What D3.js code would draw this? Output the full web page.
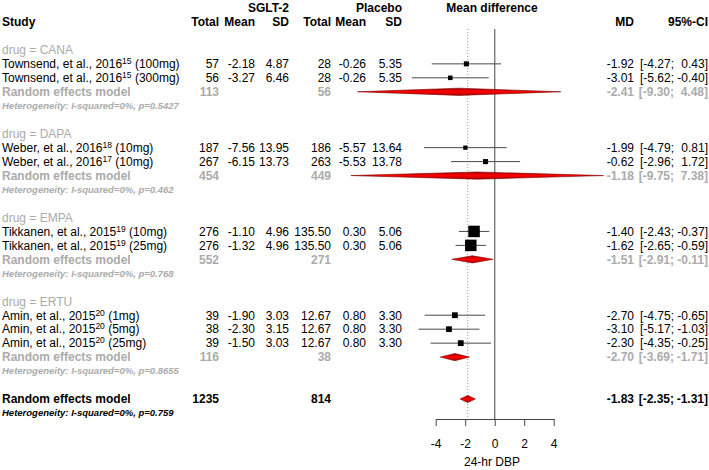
<!DOCTYPE html>
<html><head><meta charset="utf-8">
<script src="https://cdn.jsdelivr.net/npm/d3@7"></script>
<style>
body{margin:0;background:#fff}
svg{display:block}
text{font-family:"Liberation Sans",Arial,Helvetica,sans-serif}
</style>
</head><body>
<svg id="chart" width="709" height="470"></svg>
<script>
// ---------------- data ----------------
const groups = ["CANA", "DAPA", "EMPA", "ERTU"];
const studyAuthor = ["Townsend, et al., 2016", "Townsend, et al., 2016", "Weber, et al., 2016", "Weber, et al., 2016",
  "Tikkanen, et al., 2015", "Tikkanen, et al., 2015", "Amin, et al., 2015", "Amin, et al., 2015", "Amin, et al., 2015"];
const studyRef = ["15", "15", "18", "17", "19", "19", "20", "20", "20"];
const studyDose = ["(100mg)", "(300mg)", "(10mg)", "(10mg)", "(10mg)", "(25mg)", "(1mg)", "(5mg)", "(25mg)"];
const studyGroup = ["CANA", "CANA", "DAPA", "DAPA", "EMPA", "EMPA", "ERTU", "ERTU", "ERTU"];
const sgltTotal = [57, 56, 187, 267, 276, 276, 39, 38, 39];
const sgltMean = [-2.18, -3.27, -7.56, -6.15, -1.10, -1.32, -1.90, -2.30, -1.50];
const sgltSD = [4.87, 6.46, 13.95, 13.73, 4.96, 4.96, 3.03, 3.15, 3.03];
const placeboTotal = [28, 28, 186, 263, 135.50, 135.50, 12.67, 12.67, 12.67];
const placeboMean = [-0.26, -0.26, -5.57, -5.53, 0.30, 0.30, 0.80, 0.80, 0.80];
const placeboSD = [5.35, 5.35, 13.64, 13.78, 5.06, 5.06, 3.30, 3.30, 3.30];
const md = [-1.92, -3.01, -1.99, -0.62, -1.40, -1.62, -2.70, -3.10, -2.30];
const ciLower = [-4.27, -5.62, -4.79, -2.96, -2.43, -2.65, -4.75, -5.17, -4.35];
const ciUpper = [0.43, -0.40, 0.81, 1.72, -0.37, -0.59, -0.65, -1.03, -0.25];

const subTotalSglt = [113, 454, 552, 116];
const subTotalPlacebo = [56, 449, 271, 38];
const subMD = [-2.41, -1.18, -1.51, -2.70];
const subLower = [-9.30, -9.75, -2.91, -3.69];
const subUpper = [4.48, 7.38, -0.11, -1.71];
const subI2 = ["0%", "0%", "0%", "0%"];
const subHetP = ["0.5427", "0.462", "0.768", "0.8655"];

const overallTotalSglt = 1235, overallTotalPlacebo = 814;
const overallMD = -1.83, overallLower = -2.35, overallUpper = -1.31;
const overallI2 = "0%", overallHetP = "0.759";

const xTicks = [-4, -2, 0, 2, 4];
const xLabel = "24-hr DBP";

// ---------------- layout ----------------
const svg = d3.select("#chart");
const FS = 12, FSHET = 9.5;
const GREY = "#ababab";
const x = d3.scaleLinear().domain([-4, 4]).range([435.7, 553.7]);
const y = d3.scaleLinear().domain([0, 28]).range([8, 399]);
const col = { study: 2, sTot: 219, sMean: 255, sSD: 289, pTot: 331, pMean: 366, pSD: 402, md: 634, lo: 674, hi: 708 };

const defs = svg.append("defs");
const grad = defs.append("linearGradient").attr("id", "dg").attr("x1", 0).attr("y1", 0).attr("x2", 0).attr("y2", 1);
grad.append("stop").attr("offset", "0%").attr("stop-color", "#a80000");
grad.append("stop").attr("offset", "50%").attr("stop-color", "#ff0000");
grad.append("stop").attr("offset", "100%").attr("stop-color", "#a80000");

const f2 = v => v.toFixed(2);
const fTot = v => Number.isInteger(v) ? String(v) : v.toFixed(2);

function txt(xp, row, s, opt = {}) {
  return svg.append("text")
    .attr("x", xp).attr("y", y(row)).attr("dy", "0.36em")
    .attr("text-anchor", opt.anchor || "end")
    .attr("font-size", opt.size || FS)
    .attr("font-weight", opt.weight || "normal")
    .attr("font-style", opt.style || "normal")
    .attr("fill", opt.fill || "#000")
    .text(s);
}

// headers
txt(col.sSD, 0, "SGLT-2", { weight: "bold" });
txt(col.pSD, 0, "Placebo", { weight: "bold" });
txt(492, 0, "Mean difference", { weight: "bold", anchor: "middle" });
txt(col.study, 1, "Study", { weight: "bold", anchor: "start" });
txt(col.sTot, 1, "Total", { weight: "bold" });
txt(col.sMean, 1, "Mean", { weight: "bold" });
txt(col.sSD, 1, "SD", { weight: "bold" });
txt(col.pTot, 1, "Total", { weight: "bold" });
txt(col.pMean, 1, "Mean", { weight: "bold" });
txt(col.pSD, 1, "SD", { weight: "bold" });
txt(col.md, 1, "MD", { weight: "bold" });
txt(col.hi, 1, "95%-CI", { weight: "bold" });

// reference lines
const plotG = svg.append("g");
plotG.append("line").attr("x1", x(overallMD)).attr("x2", x(overallMD)).attr("y1", 29).attr("y2", 419)
  .attr("stroke", "#9a9a9a").attr("stroke-width", 1).attr("stroke-dasharray", "1,2");
plotG.append("line").attr("x1", x(0)).attr("x2", x(0)).attr("y1", 29).attr("y2", 419)
  .attr("stroke", "#7a7a7a").attr("stroke-width", 1.4);

// weights for square size
const weights = md.map((d, i) => 1 / Math.pow((ciUpper[i] - ciLower[i]) / 3.92, 2));
const sq = d3.scaleSqrt().domain([0, d3.max(weights)]).range([0, 11.5]);

function ciText(row, m, lo, hi, opt) {
  txt(col.md, row, f2(m), opt);
  txt(col.lo, row, "[" + f2(lo) + ";", opt);
  txt(col.hi, row, f2(hi) + "]", opt);
}
function diamond(row, m, lo, hi) {
  const yc = y(row), h = 3.6;
  plotG.append("path")
    .attr("d", `M${x(lo)},${yc}L${x(m)},${yc - h}L${x(hi)},${yc}L${x(m)},${yc + h}Z`)
    .attr("fill", "url(#dg)").attr("stroke", "#7a0000").attr("stroke-width", 0.6);
}

let r = 3;
groups.forEach((g, gi) => {
  txt(col.study, r, "drug = " + g, { anchor: "start", fill: GREY });
  r++;
  studyGroup.forEach((sg, i) => {
    if (sg !== g) return;
    const t = svg.append("text").attr("x", col.study).attr("y", y(r)).attr("dy", "0.36em")
      .attr("font-size", FS).attr("fill", "#000");
    t.append("tspan").text(studyAuthor[i]);
    t.append("tspan").attr("font-size", 8.5).attr("dy", -4).text(studyRef[i]);
    t.append("tspan").attr("dy", 4).text(" " + studyDose[i]);
    txt(col.sTot, r, fTot(sgltTotal[i]));
    txt(col.sMean, r, f2(sgltMean[i]));
    txt(col.sSD, r, f2(sgltSD[i]));
    txt(col.pTot, r, fTot(placeboTotal[i]));
    txt(col.pMean, r, f2(placeboMean[i]));
    txt(col.pSD, r, f2(placeboSD[i]));
    ciText(r, md[i], ciLower[i], ciUpper[i], {});
    const yc = y(r);
    plotG.append("line").attr("x1", x(ciLower[i])).attr("x2", x(ciUpper[i])).attr("y1", yc).attr("y2", yc)
      .attr("stroke", "#4a4a4a").attr("stroke-width", 1);
    const s = sq(weights[i]);
    plotG.append("rect").attr("x", x(md[i]) - s / 2).attr("y", yc - s / 2).attr("width", s).attr("height", s)
      .attr("fill", "#000");
    r++;
  });
  txt(col.study, r, "Random effects model", { anchor: "start", weight: "bold", fill: GREY });
  txt(col.sTot, r, fTot(subTotalSglt[gi]), { weight: "bold", fill: GREY });
  txt(col.pTot, r, fTot(subTotalPlacebo[gi]), { weight: "bold", fill: GREY });
  ciText(r, subMD[gi], subLower[gi], subUpper[gi], { weight: "bold", fill: GREY });
  diamond(r, subMD[gi], subLower[gi], subUpper[gi]);
  r++;
  txt(col.study, r, "Heterogeneity: I-squared=" + subI2[gi] + ", p=" + subHetP[gi],
    { anchor: "start", weight: "bold", style: "italic", size: FSHET, fill: GREY });
  r += 2;
});

txt(col.study, r, "Random effects model", { anchor: "start", weight: "bold" });
txt(col.sTot, r, fTot(overallTotalSglt), { weight: "bold" });
txt(col.pTot, r, fTot(overallTotalPlacebo), { weight: "bold" });
ciText(r, overallMD, overallLower, overallUpper, { weight: "bold" });
diamond(r, overallMD, overallLower, overallUpper);
r++;
txt(col.study, r, "Heterogeneity: I-squared=" + overallI2 + ", p=" + overallHetP,
  { anchor: "start", weight: "bold", style: "italic", size: FSHET });

// axis
const axis = d3.axisBottom(x).tickValues(xTicks).tickFormat(d => String(d)).tickSize(7).tickSizeOuter(0).tickPadding(13);
const ag = svg.append("g").attr("transform", "translate(0,419)").call(axis);
ag.select(".domain").attr("stroke", "#444");
ag.selectAll(".tick line").attr("stroke", "#444");
ag.selectAll(".tick text").attr("font-size", FS).attr("fill", "#000")
  .attr("font-family", '"Liberation Sans",Arial,Helvetica,sans-serif');
svg.append("text").attr("x", 492).attr("y", 466).attr("text-anchor", "middle").attr("font-size", FS).text(xLabel);
</script>
</body></html>
